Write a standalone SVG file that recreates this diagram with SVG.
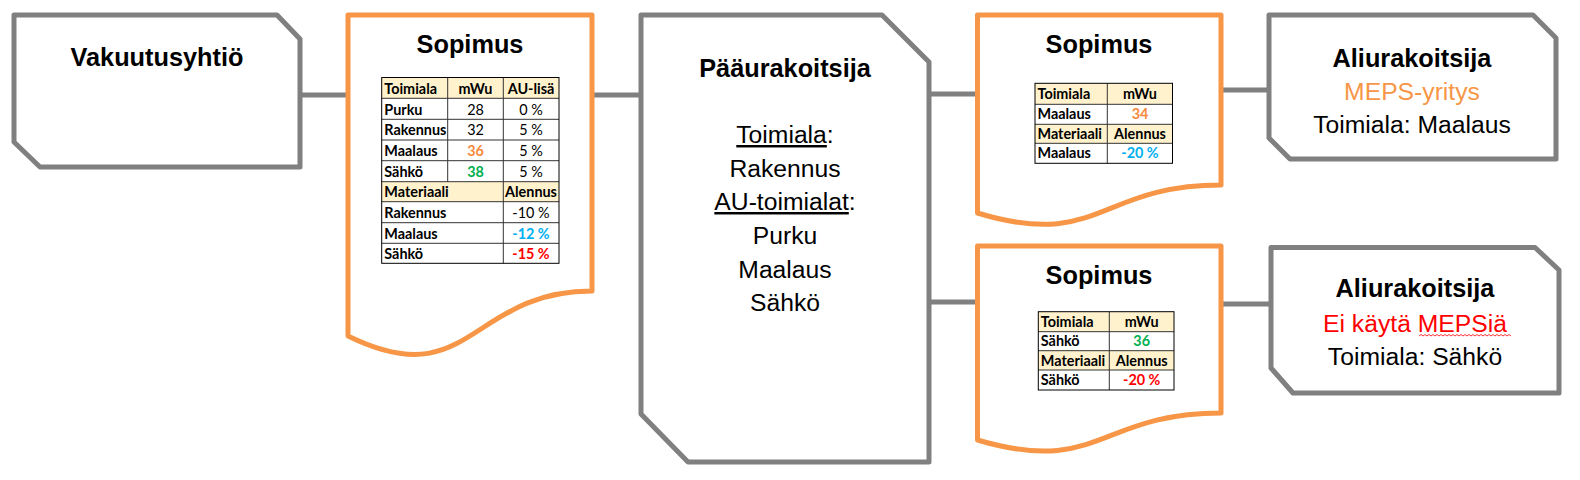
<svg xmlns="http://www.w3.org/2000/svg" width="1580" height="480" viewBox="0 0 1580 480">
<style>
.gbox{fill:#fff;stroke:#808080;stroke-width:5;stroke-linejoin:round}
.obox{fill:#fff;stroke:#F79646;stroke-width:5;stroke-linejoin:round}
.conn{stroke:#808080;stroke-width:5;fill:none}
.title{font-family:"Liberation Sans",Arial,sans-serif;font-weight:bold;font-size:25.3px;fill:#000;text-anchor:middle}
.reg{font-family:"Liberation Sans",Arial,sans-serif;font-size:24.7px;fill:#000;text-anchor:middle}
.hd{fill:#FFF2CC}
.tb{fill:none;stroke:#000;stroke-width:1}
.tl{stroke:#333;stroke-width:1}
.t{font-family:Lato,"Liberation Sans",sans-serif;font-size:14.4px;fill:#000}
.b{font-weight:bold}
.c{text-anchor:middle}
.or{fill:#F68A3E;font-weight:bold}
.gr{fill:#00B050;font-weight:bold}
.bl{fill:#00B0F0;font-weight:bold}
.rd{fill:#FF0000;font-weight:bold}
</style>
<g id="connectors">
<line class="conn" x1="300" y1="95" x2="348" y2="95"/>
<line class="conn" x1="592" y1="95" x2="641" y2="95"/>
<line class="conn" x1="929" y1="94" x2="977" y2="94"/>
<line class="conn" x1="929" y1="302" x2="977" y2="302"/>
<line class="conn" x1="1221" y1="90" x2="1269" y2="90"/>
<line class="conn" x1="1221" y1="304" x2="1271" y2="304"/>
</g>
<g id="vakuutusyhtio">
<polygon class="gbox" points="14,15 277,15 300,39 300,167 40,167 14,142"/>
<text class="title" x="157" y="66">Vakuutusyhtiö</text>
</g>
<g id="sopimus1">
<path class="obox" d="M348,15 L592,15 L592,291 C470,291 470,396 348,336 Z"/>
<text class="title" x="470" y="53">Sopimus</text>
<rect class="hd" x="381.7" y="77.5" width="177.3" height="20.8"/>
<rect class="hd" x="381.7" y="181.7" width="177.3" height="20"/>
<g class="tl">
<line x1="381.7" y1="98.3" x2="559" y2="98.3"/>
<line x1="381.7" y1="119.3" x2="559" y2="119.3"/>
<line x1="381.7" y1="140" x2="559" y2="140"/>
<line x1="381.7" y1="160.7" x2="559" y2="160.7"/>
<line x1="381.7" y1="181.7" x2="559" y2="181.7"/>
<line x1="381.7" y1="201.7" x2="559" y2="201.7"/>
<line x1="381.7" y1="222.7" x2="559" y2="222.7"/>
<line x1="381.7" y1="243.3" x2="559" y2="243.3"/>
<line x1="447.7" y1="77.5" x2="447.7" y2="181.7"/>
<line x1="503.3" y1="77.5" x2="503.3" y2="263.3"/>
</g>
<rect class="tb" x="381.7" y="77.5" width="177.3" height="185.8"/>
<g class="t">
<text class="b" x="384.3" y="93.7">Toimiala</text>
<text class="b c" x="475.5" y="93.7">mWu</text>
<text class="b c" x="531" y="93.7">AU-lisä</text>
<text class="b" x="384.3" y="114.5">Purku</text>
<text class="c" x="475.5" y="114.5">28</text>
<text class="c" x="531" y="114.5">0 %</text>
<text class="b" x="384.3" y="135.3">Rakennus</text>
<text class="c" x="475.5" y="135.3">32</text>
<text class="c" x="531" y="135.3">5 %</text>
<text class="b" x="384.3" y="156">Maalaus</text>
<text class="c or" x="475.5" y="156">36</text>
<text class="c" x="531" y="156">5 %</text>
<text class="b" x="384.3" y="176.7">Sähkö</text>
<text class="c gr" x="475.5" y="176.7">38</text>
<text class="c" x="531" y="176.7">5 %</text>
<text class="b" x="384.3" y="197.2">Materiaali</text>
<text class="b c" x="531" y="197.2">Alennus</text>
<text class="b" x="384.3" y="217.7">Rakennus</text>
<text class="c" x="531" y="217.7">-10 %</text>
<text class="b" x="384.3" y="238.5">Maalaus</text>
<text class="c bl" x="531" y="238.5">-12 %</text>
<text class="b" x="384.3" y="258.9">Sähkö</text>
<text class="c rd" x="531" y="258.9">-15 %</text>
</g>
</g>
<g id="paaurakoitsija">
<polygon class="gbox" points="641,15 882,15 929,62 929,462 688,462 641,414"/>
<text class="title" x="785" y="77">Pääurakoitsija</text>
<text class="reg" x="785" y="143"><tspan text-decoration="underline">Toimiala</tspan>:</text>
<text class="reg" x="785" y="176.5">Rakennus</text>
<text class="reg" x="785" y="210"><tspan text-decoration="underline">AU-toimialat</tspan>:</text>
<text class="reg" x="785" y="244">Purku</text>
<text class="reg" x="785" y="278">Maalaus</text>
<text class="reg" x="785" y="311">Sähkö</text>
</g>
<g id="sopimus2">
<path class="obox" d="M977.5,15 L1221,15 L1221,185 C1099,185 1099,250 977.5,213 Z"/>
<text class="title" x="1099" y="53">Sopimus</text>
<rect class="hd" x="1035" y="83.3" width="137.5" height="21"/>
<rect class="hd" x="1035" y="124.3" width="137.5" height="19"/>
<g class="tl">
<line x1="1035" y1="104.3" x2="1172.5" y2="104.3"/>
<line x1="1035" y1="124.3" x2="1172.5" y2="124.3"/>
<line x1="1035" y1="143.3" x2="1172.5" y2="143.3"/>
<line x1="1107.3" y1="83.3" x2="1107.3" y2="163.3"/>
</g>
<rect class="tb" x="1035" y="83.3" width="137.5" height="80"/>
<g class="t">
<text class="b" x="1037.5" y="99">Toimiala</text>
<text class="b c" x="1140" y="99">mWu</text>
<text class="b" x="1037.5" y="119.3">Maalaus</text>
<text class="c or" x="1140" y="119.3">34</text>
<text class="b" x="1037.5" y="138.7">Materiaali</text>
<text class="b c" x="1140" y="138.7">Alennus</text>
<text class="b" x="1037.5" y="158.3">Maalaus</text>
<text class="c bl" x="1140" y="158.3">-20 %</text>
</g>
</g>
<g id="sopimus3">
<path class="obox" d="M977.5,246 L1221,246 L1221,413 C1099,413 1099,476 977.5,440 Z"/>
<text class="title" x="1099" y="284">Sopimus</text>
<rect class="hd" x="1038.3" y="311.7" width="135.7" height="20"/>
<rect class="hd" x="1038.3" y="350.7" width="135.7" height="19.3"/>
<g class="tl">
<line x1="1038.3" y1="331.7" x2="1174" y2="331.7"/>
<line x1="1038.3" y1="350.7" x2="1174" y2="350.7"/>
<line x1="1038.3" y1="370" x2="1174" y2="370"/>
<line x1="1109.3" y1="311.7" x2="1109.3" y2="390"/>
</g>
<rect class="tb" x="1038.3" y="311.7" width="135.7" height="78.3"/>
<g class="t">
<text class="b" x="1040.8" y="326.9">Toimiala</text>
<text class="b c" x="1141.7" y="326.9">mWu</text>
<text class="b" x="1040.8" y="346.3">Sähkö</text>
<text class="c gr" x="1141.7" y="346.3">36</text>
<text class="b" x="1040.8" y="365.5">Materiaali</text>
<text class="b c" x="1141.7" y="365.5">Alennus</text>
<text class="b" x="1040.8" y="385.2">Sähkö</text>
<text class="c rd" x="1141.7" y="385.2">-20 %</text>
</g>
</g>
<g id="aliurakoitsija1">
<polygon class="gbox" points="1269,15 1533,15 1556,38 1556,159 1290,159 1269,138"/>
<text class="title" x="1412" y="66.5">Aliurakoitsija</text>
<text class="reg" x="1412" y="100" style="fill:#F79646">MEPS-yritys</text>
<text class="reg" x="1412" y="133">Toimiala: Maalaus</text>
</g>
<g id="aliurakoitsija2">
<polygon class="gbox" points="1271,247.5 1535,247.5 1559,270 1559,393 1293,393 1271,368"/>
<text class="title" x="1415" y="296.5">Aliurakoitsija</text>
<text class="reg" x="1415" y="331.5" style="fill:#FF0000">Ei käytä MEPSiä</text>
<path d="M1419,336 l2,-1.5 l2,1.5 l2,-1.5 l2,1.5 l2,-1.5 l2,1.5 l2,-1.5 l2,1.5 l2,-1.5 l2,1.5 l2,-1.5 l2,1.5 l2,-1.5 l2,1.5 l2,-1.5 l2,1.5 l2,-1.5 l2,1.5 l2,-1.5 l2,1.5 l2,-1.5 l2,1.5 l2,-1.5 l2,1.5 l2,-1.5 l2,1.5 l2,-1.5 l2,1.5 l2,-1.5 l2,1.5 l2,-1.5 l2,1.5 l2,-1.5 l2,1.5 l2,-1.5 l2,1.5 l2,-1.5 l2,1.5 l2,-1.5 l2,1.5 l2,-1.5 l2,1.5 l2,-1.5 l2,1.5 l2,-1.5 l2,1.5" fill="none" stroke="#FF0000" stroke-width="0.8"/>
<text class="reg" x="1415" y="365">Toimiala: Sähkö</text>
</g>
</svg>
